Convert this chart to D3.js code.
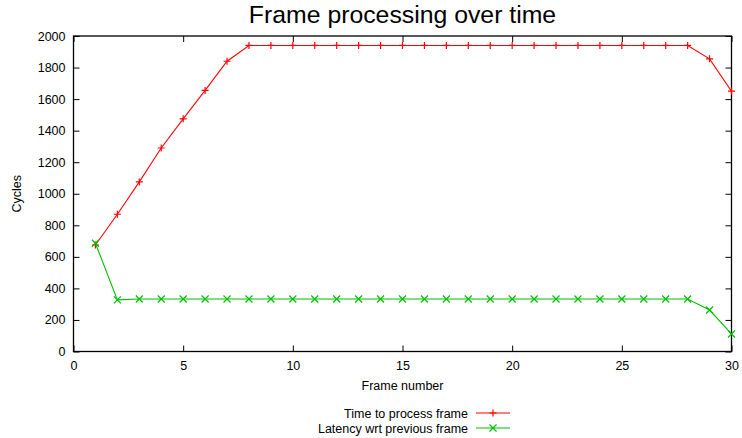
<!DOCTYPE html>
<html><head><meta charset="utf-8">
<script src="https://cdn.jsdelivr.net/npm/d3@7"></script>
<style>body{margin:0;background:#fff;}svg{display:block;font-family:"Liberation Sans",Arial,sans-serif;}</style>
</head><body><svg id="c" width="742" height="438"></svg>
<script>
const frames = d3.range(1, 31);
const timeToProcess = [675, 870, 1075, 1290, 1475, 1655, 1840, 1940, 1940, 1940,
  1940, 1940, 1940, 1940, 1940, 1940, 1940, 1940, 1940, 1940,
  1940, 1940, 1940, 1940, 1940, 1940, 1940, 1940, 1855, 1650];
const latency = [686, 327, 333, 333, 333, 333, 333, 333, 333, 333,
  333, 333, 333, 333, 333, 333, 333, 333, 333, 333,
  333, 333, 333, 333, 333, 333, 333, 333, 263, 111];
const xTicks = [0, 5, 10, 15, 20, 25, 30];
const yTicks = [0, 200, 400, 600, 800, 1000, 1200, 1400, 1600, 1800, 2000];
const seriesNames = ["Time to process frame", "Latency wrt previous frame"];
const colors = ["#ff0000", "#00c000"];

const svg = d3.select("#c");
const L = 73.5, R = 731.5, T = 36, B = 351.5;
const x = d3.scaleLinear().domain([0, 30]).range([L, R]);
const y = d3.scaleLinear().domain([0, 2000]).range([B, T]);

svg.append("text").attr("x", (L + R) / 2).attr("y", 23).attr("text-anchor", "middle")
  .attr("font-size", 24.8).text("Frame processing over time");

const tl = 6;
const fmt = d3.format("d");
const gB = svg.append("g").attr("transform", `translate(0,${B})`)
  .call(d3.axisBottom(x).tickValues(xTicks).tickFormat(fmt).tickSizeInner(-tl).tickSizeOuter(0).tickPadding(10));
const gT = svg.append("g").attr("transform", `translate(0,${T})`)
  .call(d3.axisTop(x).tickValues(xTicks).tickSizeInner(-tl).tickSizeOuter(0).tickFormat(""));
const gL = svg.append("g").attr("transform", `translate(${L},0)`)
  .call(d3.axisLeft(y).tickValues(yTicks).tickFormat(fmt).tickSizeInner(-tl).tickSizeOuter(0).tickPadding(8));
const gR = svg.append("g").attr("transform", `translate(${R},0)`)
  .call(d3.axisRight(y).tickValues(yTicks).tickSizeInner(-tl).tickSizeOuter(0).tickFormat(""));
[gB, gT, gL, gR].forEach(g => {
  g.select(".domain").remove();
  g.selectAll("line").attr("stroke", "#000").attr("stroke-width", 1);
  g.selectAll("text").attr("font-size", 12.5).attr("font-family", "Liberation Sans, Arial, sans-serif").attr("fill", "#000");
});
svg.append("rect").attr("x", L).attr("y", T).attr("width", R - L).attr("height", B - T)
  .attr("fill", "none").attr("stroke", "#000").attr("stroke-width", 1.3);

svg.append("text").attr("transform", `translate(21,${(T + B) / 2}) rotate(-90)`)
  .attr("text-anchor", "middle").attr("font-size", 12.5).text("Cycles");
svg.append("text").attr("x", (L + R) / 2).attr("y", 390).attr("text-anchor", "middle")
  .attr("font-size", 12.5).text("Frame number");

const line = d3.line().x(d => x(d[0])).y(d => y(d[1]));
const s = 3.5;
function plus(g, cx, cy, col) {
  g.append("path").attr("d", `M${cx - s},${cy}H${cx + s}M${cx},${cy - s}V${cy + s}`)
    .attr("stroke", col).attr("stroke-width", 1.2).attr("fill", "none");
}
function cross(g, cx, cy, col) {
  g.append("path").attr("d", `M${cx - s},${cy - s}L${cx + s},${cy + s}M${cx - s},${cy + s}L${cx + s},${cy - s}`)
    .attr("stroke", col).attr("stroke-width", 1.2).attr("fill", "none");
}
const data = [timeToProcess, latency];
const markers = [plus, cross];
data.forEach((vals, i) => {
  const pts = frames.map((f, j) => [f, vals[j]]);
  const g = svg.append("g");
  g.append("path").attr("d", line(pts)).attr("fill", "none").attr("stroke", colors[i]).attr("stroke-width", 1.1);
  pts.forEach(p => markers[i](g, x(p[0]), y(p[1]), colors[i]));
});

seriesNames.forEach((n, i) => {
  const ly = 413 + i * 15;
  svg.append("text").attr("x", 468).attr("y", ly + 4.5).attr("text-anchor", "end")
    .attr("font-size", 12.5).text(n);
  svg.append("line").attr("x1", 476).attr("x2", 510).attr("y1", ly).attr("y2", ly)
    .attr("stroke", colors[i]).attr("stroke-width", 1.2);
  markers[i](svg, 493, ly, colors[i]);
});
</script></body></html>
